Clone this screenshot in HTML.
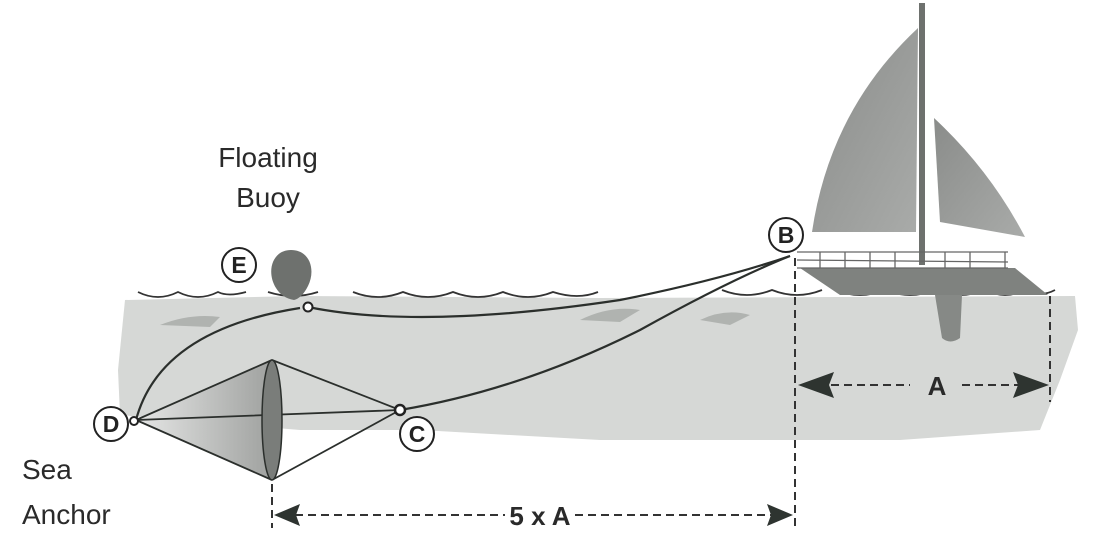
<!DOCTYPE html>
<html><head><style>body{margin:0;background:#fff}svg{display:block}</style></head><body>
<svg width="1110" height="550" viewBox="0 0 1110 550" xmlns="http://www.w3.org/2000/svg" font-family="Liberation Sans Narrow, Liberation Sans, sans-serif">
<defs>
<linearGradient id="sail" x1="0" y1="0" x2="1" y2="1"><stop offset="0" stop-color="#8a8c8a"/><stop offset="1" stop-color="#a9aba9"/></linearGradient>
<linearGradient id="cone" x1="0" y1="0" x2="1" y2="0"><stop offset="0" stop-color="#e6e7e6"/><stop offset="1" stop-color="#9fa19f"/></linearGradient>
</defs>
<rect width="1110" height="550" fill="#fff"/>
<!-- water -->
<path d="M125,300 L300,296 L600,298 L1075,296 L1078,330 L1060,380 L1040,430 L900,440 L600,440 L420,430 L300,430 L120,415 L118,370 Z" fill="#d6d8d6"/>
<path d="M160,325 q30,-12 60,-8 l-10,10 z M580,320 q30,-15 60,-10 l-20,12z M700,320 q25,-12 50,-5 l-20,10z" fill="#b0b3b0"/>
<!-- waves -->
<g fill="none" stroke="#333" stroke-width="1.8">
<path d="M138,292 q20,10 40,0 q20,10 40,0 q10,5 28,0"/>
<path d="M268,292 q25,8 50,0"/>
<path d="M353,292 q25,10 50,0 q25,10 50,0 q25,10 50,0 q25,10 50,0 q25,8 45,0"/>
<path d="M722,290 q25,10 50,0 q25,10 50,0"/>
<path d="M835,290 q25,10 50,0 q25,10 50,0 q25,10 50,0 q20,10 40,0 q15,8 30,0"/>
</g>
<!-- boat -->
<path d="M918,28 Q830,110 812,232 L916,232 Z" fill="url(#sail)"/>
<path d="M934,118 Q990,170 1025,237 L940,222 Z" fill="url(#sail)"/>
<rect x="919" y="3" width="6" height="262" fill="#6e716e"/>
<path d="M800,268 L1015,268 L1048,295 L840,295 Z" fill="#7f827f"/>
<path d="M935,295 L962,295 L960,338 Q950,345 942,338 Z" fill="#868986"/>
<g stroke="#666" stroke-width="1.3" fill="none">
<path d="M797,252 L1008,252 M797,260 L1008,262 M797,268 L1008,268"/>
<path d="M820,252 v16 M845,252 v16 M870,252 v16 M895,252 v16 M945,252 v16 M970,252 v16 M1005,252 v16"/>
</g>
<!-- ropes -->
<g fill="none" stroke="#2b2f2c" stroke-width="2.2">
<path d="M308,307 Q420,330 620,300 Q720,280 790,256"/>
<path d="M400,410 Q520,390 640,330 Q730,280 790,256"/>
<path d="M136,420 Q160,330 300,308"/>
</g>
<!-- sea anchor -->
<path d="M136,420 L272,360 L272,480 Z" fill="url(#cone)"/>
<g fill="none" stroke="#2b2f2c" stroke-width="1.8">
<path d="M136,420 L272,360 M136,420 L272,480 M272,360 L400,410 M272,480 L400,410 M136,420 L400,410"/>
</g>
<ellipse cx="272" cy="420" rx="10" ry="60" fill="#7a7d7a" stroke="#2b2f2c" stroke-width="1.5"/>
<circle cx="134" cy="421" r="4" fill="#fff" stroke="#222" stroke-width="2"/>
<circle cx="400" cy="410" r="5" fill="#fff" stroke="#222" stroke-width="2.5"/>
<!-- buoy -->
<path d="M291,250 C310,250 316,270 308,286 Q302,298 294,300 Q282,298 276,288 C266,272 272,250 291,250 Z" fill="#6e716e"/>
<circle cx="308" cy="307" r="4.5" fill="#fff" stroke="#222" stroke-width="2"/>
<!-- dashed lines -->
<g stroke="#333" stroke-width="2" stroke-dasharray="8,5" fill="none">
<path d="M272,484 V528 M795,258 V528 M1050,296 V402"/>
<path d="M282,515 H505 M575,515 H785" />
<path d="M805,385 H910 M962,385 H1040"/>
</g>
<path d="M274,515 L300,504 L296,515 L300,526 Z" fill="#2e3430"/>
<path d="M793,515 L767,504 L771,515 L767,526 Z" fill="#2e3430"/>
<path d="M798,385 L834,372 L829,385 L834,398 Z" fill="#2e3430"/>
<path d="M1049,385 L1013,372 L1018,385 L1013,398 Z" fill="#2e3430"/>
<!-- labels -->
<g fill="#2a2a2a" font-size="28">
<text x="268" y="167" text-anchor="middle">Floating</text>
<text x="268" y="207" text-anchor="middle">Buoy</text>
<text x="22" y="479">Sea</text>
<text x="22" y="524">Anchor</text>
</g>
<g font-weight="bold" fill="#2a2a2a">
<text x="540" y="525" font-size="26" text-anchor="middle">5 x A</text>
<text x="937" y="395" font-size="26" text-anchor="middle">A</text>
</g>
<g fill="#fff" stroke="#222" stroke-width="2">
<circle cx="786" cy="235" r="17"/><circle cx="239" cy="265" r="17"/><circle cx="111" cy="424" r="17"/><circle cx="417" cy="434" r="17"/>
</g>
<g font-weight="bold" font-size="23" fill="#222" text-anchor="middle">
<text x="786" y="243">B</text><text x="239" y="273">E</text><text x="111" y="432">D</text><text x="417" y="442">C</text>
</g>
</svg>
</body></html>
